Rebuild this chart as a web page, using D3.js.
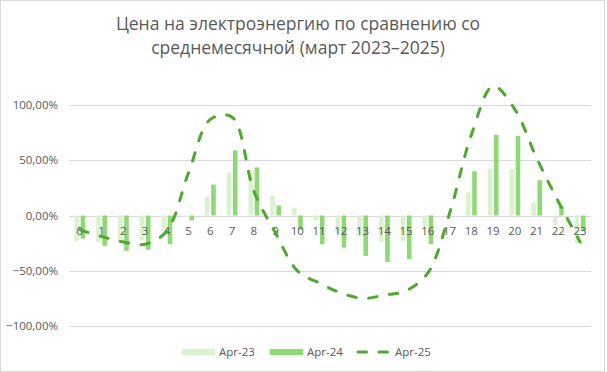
<!DOCTYPE html>
<html>
<head>
<meta charset="UTF-8" />
<title>Цена на электроэнергию</title>
<script src="https://cdn.jsdelivr.net/npm/d3@7"></script>
<style>
  body { margin: 0; background: #fff; }
  text { font-family: "Open Sans", "Noto Sans", sans-serif; fill: #595959; }
</style>
</head>
<body>
<svg id="chart"></svg>
<script>
// data (hourly price vs monthly average, %)
const hours = ["0","1","2","3","4","5","6","7","8","9","10","11","12","13","14","15","16","17","18","19","20","21","22","23"];
const apr23 = [-23,-24,-24,-22,-13,-1.5,17,39,40,18,7,-4.5,-16,-19,-24,-23,-11,0,21,42,42,12,-9,-25];
const apr24 = [-21,-27.5,-32,-31,-26,-4.5,28,59,43.5,9,-13,-26,-29,-36.5,-42,-39.5,-26,0,40,73,72,32,8.6,-14];
const apr25 = [-13,-19,-24,-26,-14,39,87,89,22,-16,-50,-61,-70,-75,-72,-68,-52,2,73,117,96,52,12.5,-24];
const yTicks = [-100,-50,0,50,100];
const seriesNames = ["Apr-23","Apr-24","Apr-25"];

const width = 607, height = 372;
const colors = { a23: "#daf2d0", a24: "#8ed973", a25: "#4ea72e" };

const svg = d3.select("#chart")
  .attr("width", width)
  .attr("height", height);

// chart border
svg.append("rect")
  .attr("x", 0.5).attr("y", 0.5)
  .attr("width", width - 3).attr("height", height - 1)
  .attr("fill", "#fff")
  .attr("stroke", "#d9d9d9");

// title
svg.append("text")
  .attr("x", 298).attr("y", 30)
  .attr("text-anchor", "middle")
  .style("font-size", "17.5px")
  .text("Цена на электроэнергию по сравнению со");
svg.append("text")
  .attr("x", 298).attr("y", 54)
  .attr("text-anchor", "middle")
  .style("font-size", "17.5px")
  .text("среднемесячной (март 2023–2025)");

const x = d3.scaleBand().domain(hours).range([69, 591]);
const y = d3.scaleLinear().domain([-100, 100]).range([326, 105]);

// gridlines
svg.append("g")
  .selectAll("line")
  .data(yTicks)
  .join("line")
  .attr("x1", 69).attr("x2", 591)
  .attr("y1", d => Math.round(y(d)) + 0.5)
  .attr("y2", d => Math.round(y(d)) + 0.5)
  .attr("stroke", "#d9d9d9");

// y labels
svg.append("g")
  .selectAll("text")
  .data(yTicks)
  .join("text")
  .attr("x", 58)
  .attr("y", d => y(d) + 4)
  .attr("text-anchor", "end")
  .style("font-size", "11.5px")
  .text(d => d3.format(".2f")(d).replace(".", ",") + "%");

// bars
const bw = 4.6, gap = 0.8;
svg.append("g")
  .selectAll("rect")
  .data(apr23)
  .join("rect")
  .attr("x", (d, i) => x(hours[i]) + x.bandwidth() / 2 - gap - bw)
  .attr("width", bw)
  .attr("y", d => y(Math.max(0, d)))
  .attr("height", d => Math.abs(y(d) - y(0)))
  .attr("fill", colors.a23);

svg.append("g")
  .selectAll("rect")
  .data(apr24)
  .join("rect")
  .attr("x", (d, i) => x(hours[i]) + x.bandwidth() / 2 + gap)
  .attr("width", bw)
  .attr("y", d => y(Math.max(0, d)))
  .attr("height", d => Math.abs(y(d) - y(0)))
  .attr("fill", colors.a24);

// category labels
svg.append("g")
  .selectAll("text")
  .data(hours)
  .join("text")
  .attr("x", d => x(d) + x.bandwidth() / 2)
  .attr("y", y(0) + 19)
  .attr("text-anchor", "middle")
  .style("font-size", "11.5px")
  .text(d => d);

// smoothed dashed line
const line = d3.line()
  .x((d, i) => x(hours[i]) + x.bandwidth() / 2)
  .y(d => y(d))
  .curve(d3.curveCatmullRom.alpha(0.5));

svg.append("path")
  .datum(apr25)
  .attr("d", line)
  .attr("fill", "none")
  .attr("stroke", colors.a25)
  .attr("stroke-width", 3)
  .attr("stroke-linecap", "round")
  .attr("stroke-dasharray", "8.5 12.5");

// legend
const lg = svg.append("g").attr("transform", "translate(0,352)");
lg.append("rect").attr("x", 182).attr("y", -3).attr("width", 33).attr("height", 6).attr("fill", colors.a23);
lg.append("text").attr("x", 219).attr("y", 4).style("font-size", "11.5px").text(seriesNames[0]);
lg.append("rect").attr("x", 270).attr("y", -3).attr("width", 33).attr("height", 6).attr("fill", colors.a24);
lg.append("text").attr("x", 307).attr("y", 4).style("font-size", "11.5px").text(seriesNames[1]);
lg.append("line").attr("x1", 358).attr("x2", 389).attr("y1", 0).attr("y2", 0)
  .attr("stroke", colors.a25).attr("stroke-width", 3).attr("stroke-linecap", "round")
  .attr("stroke-dasharray", "8.5 12.5");
lg.append("text").attr("x", 395).attr("y", 4).style("font-size", "11.5px").text(seriesNames[2]);
</script>
</body>
</html>
